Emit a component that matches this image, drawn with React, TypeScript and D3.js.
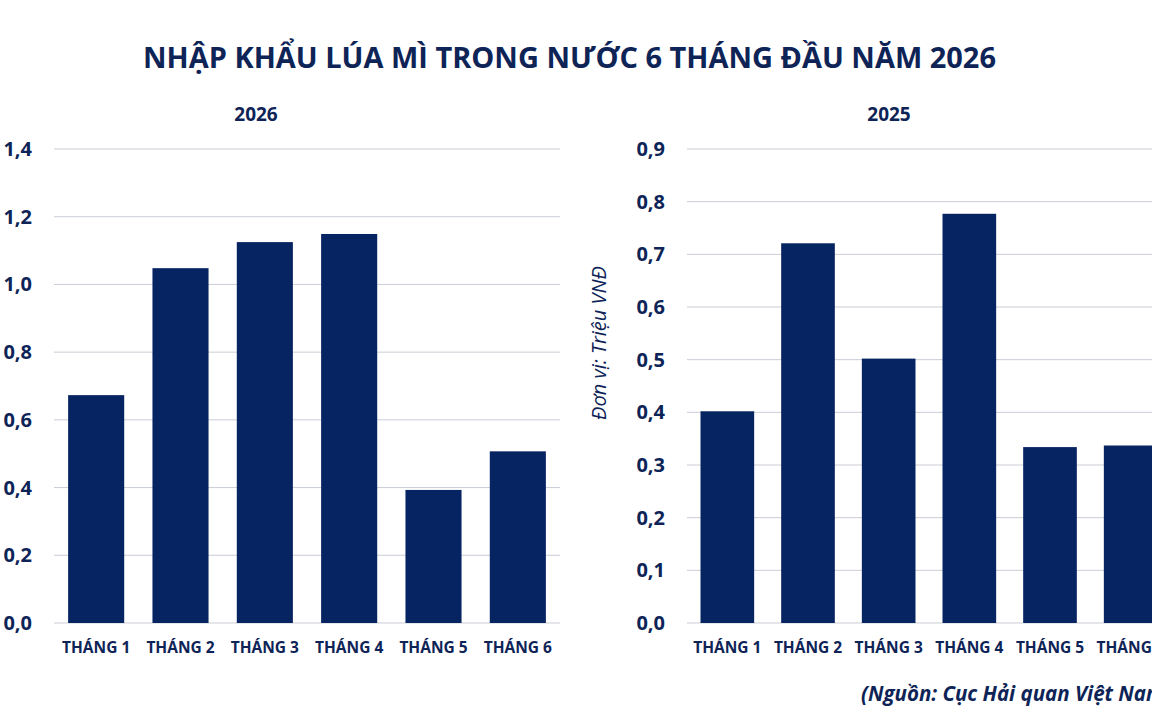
import React from "react";
import * as d3 from "d3";

const months = ["THÁNG 1", "THÁNG 2", "THÁNG 3", "THÁNG 4", "THÁNG 5", "THÁNG 6"];
const values2026 = [0.673, 1.048, 1.125, 1.149, 0.393, 0.507];
const values2025 = [0.402, 0.721, 0.502, 0.777, 0.334, 0.337];
const ticks2026 = [0, 0.2, 0.4, 0.6, 0.8, 1.0, 1.2, 1.4];
const ticks2025 = [0, 0.1, 0.2, 0.3, 0.4, 0.5, 0.6, 0.7, 0.8, 0.9];

const TITLE = "NHẬP KHẨU LÚA MÌ TRONG NƯỚC 6 THÁNG ĐẦU NĂM 2026";
const SOURCE = "(Nguồn: Cục Hải quan Việt Nam)";
const Y_LABEL = "Đơn vị: Triệu VNĐ";

const BAR = "#062462";
const TEXT = "#0e2457";
const GRID = "#c9cdd5";
const FONT = "'Open Sans', sans-serif";

const fmt = (v: number) => v.toFixed(1).replace(".", ",");

type PanelProps = {
  values: number[];
  ticks: number[];
  x0: number;
  x1: number;
  tickRight: number;
  subtitle: string;
  subtitleX: number;
};

function Panel({ values, ticks, x0, x1, tickRight, subtitle, subtitleX }: PanelProps) {
  const yTop = 149;
  const yBottom = 623;
  const x = d3.scaleBand<string>().domain(months).range([x0, x1]).paddingInner(0.335).paddingOuter(0.1675);
  const y = d3.scaleLinear().domain([0, ticks[ticks.length - 1]]).range([yBottom, yTop]);
  return (
    <g>
      <text x={subtitleX} y={121} textAnchor="middle" fontFamily={FONT} fontWeight={700} fontSize={19} fill={TEXT}>
        {subtitle}
      </text>
      {ticks.map((t) => (
        <g key={t}>
          <line x1={x0} x2={x1} y1={y(t)} y2={y(t)} stroke={GRID} strokeWidth={1} />
          <text x={tickRight} y={y(t) + 7} textAnchor="end" fontFamily={FONT} fontWeight={700} fontSize={20} fill={TEXT}>
            {fmt(t)}
          </text>
        </g>
      ))}
      {values.map((v, i) => (
        <rect key={i} x={x(months[i])} width={x.bandwidth()} y={y(v)} height={yBottom - y(v)} fill={BAR} />
      ))}
      {months.map((m) => (
        <text key={m} x={(x(m) as number) + x.bandwidth() / 2} y={653} textAnchor="middle" fontFamily={FONT} fontWeight={700} fontSize={15.5} fill={TEXT}>
          {m}
        </text>
      ))}
    </g>
  );
}

export default function App() {
  return (
    <div style={{ position: "fixed", left: 0, top: 0, width: 1152, height: 720, overflow: "hidden", background: "#fff" }}>
      <svg width={1152} height={720} viewBox="0 0 1152 720">
        <rect width={1152} height={720} fill="#fff" />
        <text x={569.5} y={68} textAnchor="middle" fontFamily={FONT} fontWeight={700} fontSize={28} fill={TEXT} textLength={853} lengthAdjust="spacingAndGlyphs">
          {TITLE}
        </text>
        <Panel values={values2026} ticks={ticks2026} x0={54} x1={560} tickRight={32} subtitle="2026" subtitleX={256} />
        <Panel values={values2025} ticks={ticks2025} x0={687} x1={1171} tickRight={665} subtitle="2025" subtitleX={889} />
        <text transform="translate(606,343) rotate(-90)" textAnchor="middle" fontFamily={FONT} fontStyle="italic" fontSize={20} fill={TEXT}>
          {Y_LABEL}
        </text>
        <text x={861} y={701} fontFamily={FONT} fontStyle="italic" fontWeight={700} fontSize={20.5} fill={TEXT}>
          {SOURCE}
        </text>
      </svg>
    </div>
  );
}
